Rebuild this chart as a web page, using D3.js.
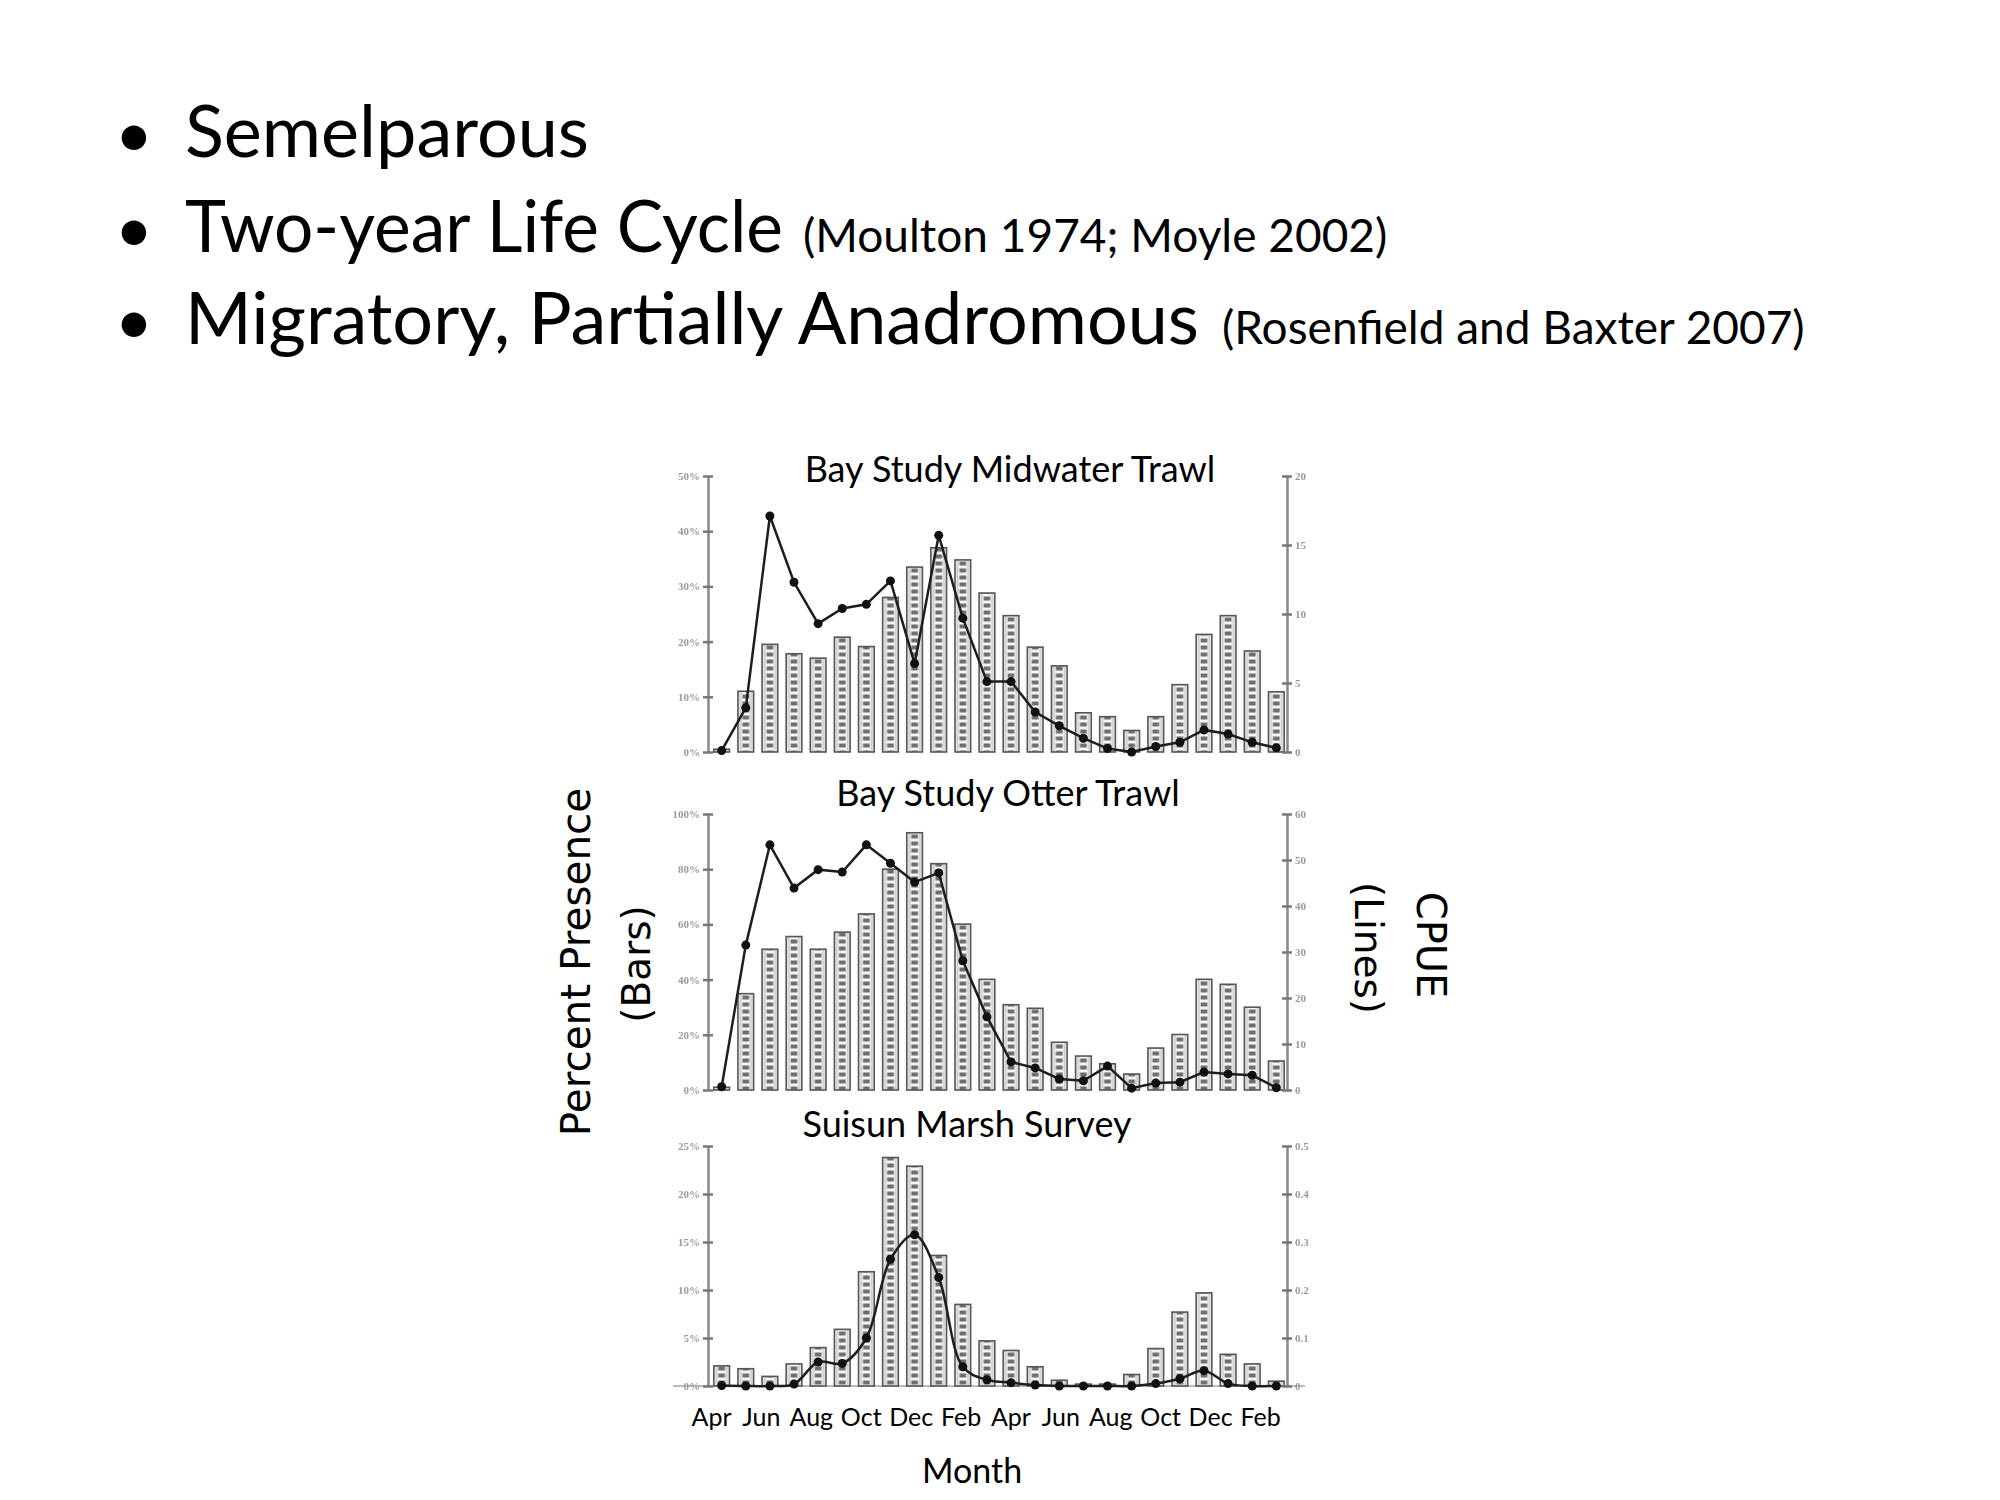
<!DOCTYPE html>
<html>
<head>
<meta charset="utf-8">
<script src="https://cdn.jsdelivr.net/npm/d3@7"></script>
<style>
  body { margin: 0; background: #fff; }
</style>
</head>
<body>
<div id="chart"></div>
<script>
  // months along the x axis (two years, Apr .. Mar)
  const months = ["Apr","May","Jun","Jul","Aug","Sep","Oct","Nov","Dec","Jan","Feb","Mar",
                  "Apr","May","Jun","Jul","Aug","Sep","Oct","Nov","Dec","Jan","Feb","Mar"];
  const monthLabels = ["Apr","Jun","Aug","Oct","Dec","Feb","Apr","Jun","Aug","Oct","Dec","Feb"];

  // Bay Study Midwater Trawl
  const midwaterBars = [0.5, 11, 19.5, 17.8, 17, 20.8, 19.1, 28, 33.5, 37, 34.8, 28.8,
                        24.7, 19, 15.6, 7.1, 6.4, 3.9, 6.4, 12.2, 21.3, 24.7, 18.3, 10.9];
  const midwaterCpue = [0.1, 3.2, 17.1, 12.3, 9.3, 10.4, 10.7, 12.4, 6.4, 15.7, 9.7, 5.1,
                        5.1, 2.9, 1.9, 1.0, 0.25, 0.0, 0.4, 0.7, 1.6, 1.3, 0.7, 0.3];
  const midwaterLeftTicks = [0, 10, 20, 30, 40, 50];
  const midwaterRightTicks = [0, 5, 10, 15, 20];

  // Bay Study Otter Trawl
  const otterBars = [1, 34.9, 51, 55.6, 51, 57.2, 63.8, 80, 93.2, 82, 60.1, 40.1,
                     30.9, 29.6, 17.3, 12.3, 9.5, 5.8, 15.2, 20.1, 40.1, 38.3, 30, 10.5];
  const otterCpue = [0.7, 31.5, 53.3, 43.9, 47.9, 47.4, 53.3, 49.3, 45.2, 47.2, 28.1, 15.9,
                     6.1, 4.8, 2.4, 2.0, 5.2, 0.4, 1.5, 1.7, 3.9, 3.5, 3.2, 0.5];
  const otterLeftTicks = [0, 20, 40, 60, 80, 100];
  const otterRightTicks = [0, 10, 20, 30, 40, 50, 60];

  // Suisun Marsh Survey
  const suisunBars = [2.1, 1.8, 1.0, 2.3, 4.0, 5.9, 11.9, 23.8, 22.9, 13.6, 8.5, 4.7,
                      3.7, 2.0, 0.6, 0.2, 0.2, 1.2, 3.9, 7.7, 9.7, 3.3, 2.3, 0.5];
  const suisunCpue = [0.001, 0, 0, 0.004, 0.05, 0.047, 0.1, 0.264, 0.315, 0.226, 0.04, 0.013,
                      0.007, 0.002, 0, 0, 0, 0, 0.005, 0.015, 0.032, 0.005, 0, 0];
  const suisunLeftTicks = [0, 5, 10, 15, 20, 25];
  const suisunRightTicks = [0, 0.1, 0.2, 0.3, 0.4, 0.5];

  const width = 2000, height = 1500;
  const axL = 708, axR = 1287;

  const svg = d3.select("#chart")
    .append("svg")
      .attr("width", width)
      .attr("height", height)
      .style("display", "block");

  svg.append("rect").attr("width", width).attr("height", height).attr("fill", "#fff");

  const defs = svg.append("defs");
  defs.append("filter").attr("id", "soft")
    .append("feGaussianBlur").attr("stdDeviation", 0.6);

  // shared x scale for the bars
  const x = d3.scaleBand()
    .domain(d3.range(months.length))
    .range([709, 1289])
    .paddingInner(0.35)
    .paddingOuter(0.2);
  const bw = x.bandwidth();

  // hatch pattern aligned to the bands
  const pat = defs.append("pattern")
    .attr("id", "hatch")
    .attr("patternUnits", "userSpaceOnUse")
    .attr("x", x(0)).attr("y", 0)
    .attr("width", x.step()).attr("height", 7);
  pat.append("rect").attr("width", x.step()).attr("height", 7).attr("fill", "#f4f4f4");
  pat.append("rect").attr("x", 4.5).attr("y", 1.5).attr("width", bw - 9).attr("height", 4).attr("fill", "#6e6e6e");
  pat.append("rect").attr("x", 1.5).attr("y", 0).attr("width", 2).attr("height", 7).attr("fill", "#cfcfcf");
  pat.append("rect").attr("x", bw - 3.5).attr("y", 0).attr("width", 2).attr("height", 7).attr("fill", "#cfcfcf");

  const panels = [
    {title: "Bay Study Midwater Trawl", bars: midwaterBars, cpue: midwaterCpue,
     left: midwaterLeftTicks, right: midwaterRightTicks, top: 476, bottom: 752,
     tx: 1010, ty: 482, curve: d3.curveLinear},
    {title: "Bay Study Otter Trawl", bars: otterBars, cpue: otterCpue,
     left: otterLeftTicks, right: otterRightTicks, top: 814, bottom: 1090,
     tx: 1008, ty: 806, curve: d3.curveLinear},
    {title: "Suisun Marsh Survey", bars: suisunBars, cpue: suisunCpue,
     left: suisunLeftTicks, right: suisunRightTicks, top: 1146, bottom: 1386,
     tx: 967, ty: 1137, curve: d3.curveCatmullRom.alpha(0.5)}
  ];

  panels.forEach(function(p, k) {
    const yL = d3.scaleLinear().domain([0, d3.max(p.left)]).range([p.bottom, p.top]);
    const yR = d3.scaleLinear().domain([0, d3.max(p.right)]).range([p.bottom, p.top]);

    // baseline only on the bottom panel
    if (k === 2) {
      svg.append("line")
        .attr("x1", 673).attr("x2", 1305)
        .attr("y1", p.bottom).attr("y2", p.bottom)
        .attr("stroke", "#bbb").attr("stroke-width", 2);
    }

    // bars
    svg.append("g").selectAll("rect")
      .data(p.bars)
      .join("rect")
        .attr("x", (d, i) => x(i))
        .attr("y", d => yL(d))
        .attr("width", bw)
        .attr("height", d => p.bottom - yL(d))
        .attr("fill", "url(#hatch)")
        .attr("stroke", "#555")
        .attr("stroke-width", 1.6);

    // axes
    const gL = svg.append("g")
      .attr("transform", `translate(${axL},0)`)
      .call(d3.axisLeft(yL).tickValues(p.left).tickSize(5).tickSizeOuter(0).tickFormat(d => d + "%"));
    const gR = svg.append("g")
      .attr("transform", `translate(${axR},0)`)
      .call(d3.axisRight(yR).tickValues(p.right).tickSize(5).tickSizeOuter(0).tickFormat(d => String(d)));

    [gL, gR].forEach(function(g, j) {
      g.select(".domain").attr("stroke", "#888").attr("stroke-width", 2.5);
      g.selectAll(".tick line")
        .attr("x1", j === 0 ? 5 : -5)
        .attr("stroke", "#777").attr("stroke-width", 2.5);
      g.selectAll(".tick text")
        .attr("font-family", "Liberation Serif")
        .attr("font-size", 11)
        .attr("font-weight", "bold")
        .attr("fill", "#9a9a9a")
        .attr("filter", "url(#soft)");
    });

    // CPUE line
    const line = d3.line()
      .curve(p.curve)
      .x((d, i) => x(i) + bw / 2)
      .y(d => yR(d));
    svg.append("path")
      .datum(p.cpue)
      .attr("fill", "none")
      .attr("stroke", "#1e1e1e")
      .attr("stroke-width", 2.5)
      .attr("d", line);
    svg.append("g").selectAll("circle")
      .data(p.cpue)
      .join("circle")
        .attr("cx", (d, i) => x(i) + bw / 2)
        .attr("cy", d => yR(d))
        .attr("r", 4.5)
        .attr("fill", "#111");

    svg.append("text")
      .attr("x", p.tx).attr("y", p.ty)
      .attr("text-anchor", "middle")
      .attr("font-family", "Lato")
      .attr("font-size", 36)
      .attr("fill", "#000")
      .text(p.title);
  });

  // month labels under the bottom panel
  const xLab = d3.scalePoint()
    .domain(d3.range(monthLabels.length))
    .range([711, 1260]);
  const gX = svg.append("g")
    .attr("transform", "translate(0,1405)")
    .call(d3.axisBottom(xLab).tickSize(0).tickFormat(i => monthLabels[i]));
  gX.select(".domain").remove();
  gX.selectAll(".tick text")
    .attr("font-family", "Lato")
    .attr("font-size", 25)
    .attr("fill", "#000")
    .attr("dy", "0.71em");

  svg.append("text")
    .attr("x", 972).attr("y", 1483)
    .attr("text-anchor", "middle")
    .attr("font-family", "Lato")
    .attr("font-size", 34)
    .text("Month");

  // axis titles
  svg.append("text")
    .attr("transform", "translate(590,962) rotate(-90)")
    .attr("text-anchor", "middle")
    .attr("font-family", "DejaVu Sans")
    .attr("font-size", 40.5)
    .text("Percent Presence");
  svg.append("text")
    .attr("transform", "translate(650,964) rotate(-90)")
    .attr("text-anchor", "middle")
    .attr("font-family", "DejaVu Sans")
    .attr("font-size", 39)
    .text("(Bars)");
  svg.append("text")
    .attr("transform", "translate(1417,945) rotate(90)")
    .attr("text-anchor", "middle")
    .attr("font-family", "DejaVu Sans")
    .attr("font-size", 40)
    .text("CPUE");
  svg.append("text")
    .attr("transform", "translate(1355,948) rotate(90)")
    .attr("text-anchor", "middle")
    .attr("font-family", "DejaVu Sans")
    .attr("font-size", 39)
    .text("(Lines)");

  // bullet list
  const bullets = [
    {main: "Semelparous", len: 404, cite: "", y: 157, cx: 0},
    {main: "Two-year Life Cycle", len: 598, cite: "(Moulton 1974; Moyle 2002)", y: 252, cx: 803},
    {main: "Migratory, Partially Anadromous", len: 1014, cite: "(Rosenfield and Baxter 2007)", y: 344, cx: 1222}
  ];
  bullets.forEach(function(b) {
    svg.append("text")
      .attr("x", 134).attr("y", b.y)
      .attr("text-anchor", "middle")
      .attr("font-family", "Lato")
      .attr("font-size", 66)
      .text("\u2022");
    svg.append("text")
      .attr("x", 185).attr("y", b.y)
      .attr("font-family", "Lato")
      .attr("font-size", 72)
      .attr("textLength", b.len)
      .attr("lengthAdjust", "spacingAndGlyphs")
      .text(b.main);
    if (b.cite) {
      svg.append("text")
        .attr("x", b.cx).attr("y", b.y)
        .attr("font-family", "Lato")
        .attr("font-size", 46)
        .text(b.cite);
    }
  });
</script>
</body>
</html>
